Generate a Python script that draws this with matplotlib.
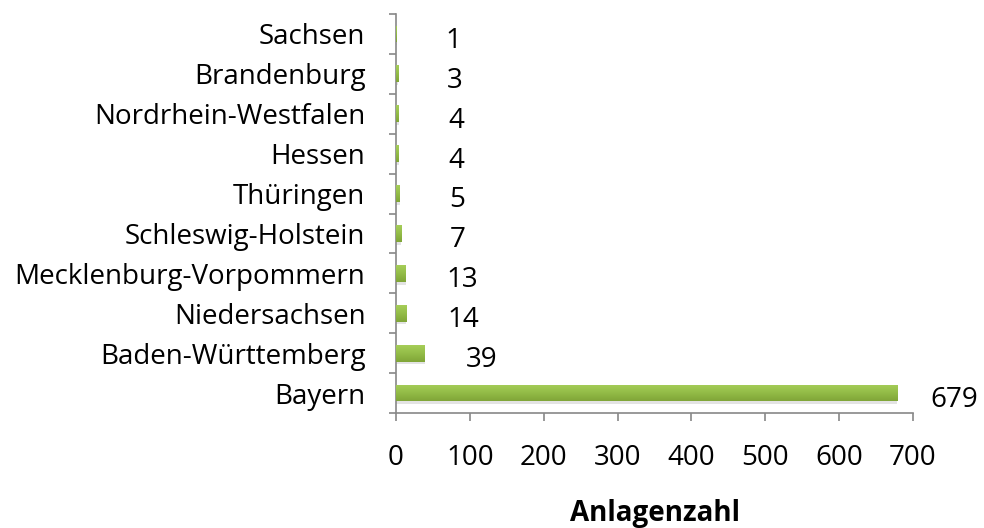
import matplotlib
matplotlib.use("Agg")
import matplotlib.pyplot as plt
import numpy as np
from matplotlib.colors import LinearSegmentedColormap

states = ["Bayern", "Baden-Württemberg", "Niedersachsen", "Mecklenburg-Vorpommern",
          "Schleswig-Holstein", "Thüringen", "Hessen", "Nordrhein-Westfalen",
          "Brandenburg", "Sachsen"]
counts = [679, 39, 14, 13, 7, 5, 4, 4, 3, 1]
xticks = [0, 100, 200, 300, 400, 500, 600, 700]
xlabel = "Anlagenzahl"

plt.rcParams['font.family'] = ['Open Sans', 'DejaVu Sans']

fig = plt.figure(figsize=(9.84, 5.28), dpi=100)
ax = fig.add_axes([396/984, 1-413/528, (913-396)/984, (413-14)/528])

y = np.arange(len(states))
h = 0.42
# shadow
ax.barh(y - 0.07, counts, height=h, left=0, color='#b0b0b0', alpha=0.35, zorder=1,
        edgecolor='none')
bars = ax.barh(y, counts, height=h, color='#8db43f', zorder=2, edgecolor='none')
cmap = LinearSegmentedColormap.from_list('g', ['#80a538', '#93bc47', '#a6cd58'])
grad = np.linspace(0, 1, 64).reshape(-1, 1)
for b in bars:
    x0, y0 = b.get_x(), b.get_y()
    w, hh = b.get_width(), b.get_height()
    im = ax.imshow(grad, cmap=cmap, aspect='auto', origin='lower',
                   extent=[x0, x0 + w, y0, y0 + hh], zorder=3)
    im.set_clip_path(b)

fs = 20
for yi, v in zip(y, counts):
    ax.annotate(str(v), (v, yi), xytext=(41, -5), textcoords='offset points',
                ha='center', va='center', fontsize=fs, color='black')

ax.set_xlim(0, 700)
ax.set_ylim(-0.5, len(states) - 0.5)
ax.set_xticks(xticks)
ax.set_xticklabels([str(t) for t in xticks], fontsize=fs)
ax.set_yticks(np.arange(len(states) + 1) - 0.5, minor=False)
ax.set_yticklabels([])
ax.set_yticks(y, minor=True)
ax.set_yticklabels(states, minor=True, fontsize=fs)
ax.tick_params(axis='y', which='minor', length=0, pad=22)
ax.tick_params(axis='y', which='major', length=5, color='#888888', width=1.2)
ax.tick_params(axis='x', length=6, color='#888888', width=1.2, pad=16)
for s in ['top', 'right']:
    ax.spines[s].set_visible(False)
for s in ['left', 'bottom']:
    ax.spines[s].set_color('#888888')
    ax.spines[s].set_linewidth(1.2)
ax.set_xlabel(xlabel, fontsize=fs, fontweight='bold')
ax.xaxis.set_label_coords(0.5, -(514 - 413) / (413 - 14))
ax.xaxis.label.set_va('center')

fig.savefig('out.png', dpi=100)
